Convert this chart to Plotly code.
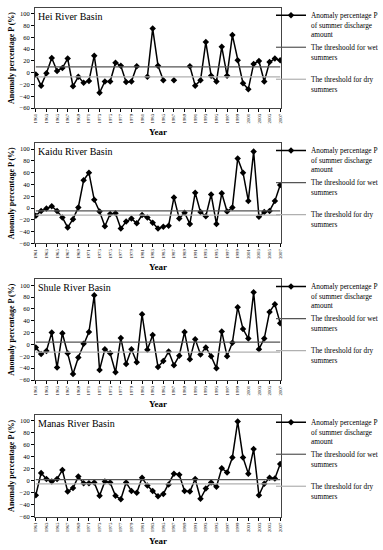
import plotly.graph_objects as go

years = list(range(1961, 2008))

basins = ["Hei River Basin", "Kaidu River Basin", "Shule River Basin", "Manas River Basin"]

hei = [-3, -22, -1, 25, 3, 8, 24, -23, -7, -17, -14, 29, -34, -15, -15, 17, 12, -16, -15, 11,
       None, -7, 75, 12, -13, None, -13, None, None, 11, -22, -13, 52, -5, -15, 44, -5, 64, 21, -18,
       -28, 15, 20, -15, 18, 24, 21]
kaidu = [-13, -5, -1, 3, -5, -16, -33, -19, 1, 47, 60, 14, -6, -31, -10, -9, -35, -23, -18, -26,
         -12, -16, -25, -35, -32, -30, 18, -18, -8, -27, 26, -7, -14, 23, -27, 25, -6, 1, 84, 60,
         12, 96, -15, -7, -5, 12, 39]
shule = [-5, -16, -11, 20, -39, 19, -15, -50, -22, 1, 21, 83, -43, -8, -15, -47, 11, -33, -8, -30,
         51, -9, 16, -38, -28, -12, -35, -19, 21, -25, 9, -17, -5, -20, -40, 22, -20, 3, 63, 26,
         10, 88, -8, 10, 55, 68, 36]
manas = [-24, 13, 3, -1, 3, 18, -18, -12, 7, -4, -4, -3, -25, -1, -3, -25, -31, -3, -17, -20,
         5, -8, -17, -26, -22, -6, 12, 10, -17, -18, 3, -30, -13, -3, -10, 21, 14, 39, 99, 39,
         12, 53, -24, -5, 5, 4, 28]

series = [hei, kaidu, shule, manas]
wet_thresholds = [10, -5, 4, 2]
dry_thresholds = [-7, -12, -13, -5]

y_ticks = [-60, -40, -20, 0, 20, 40, 60, 80, 100]
x_ticks = list(range(1961, 2008, 2))

legend_names = ["Anomaly percentage P<br>of summer discharge<br>amount",
                "The threshoold for wet<br>summers",
                "The threshold for dry<br>summers"]

W, H = 383, 550
panels_px = [(8, 108), (143.3, 243.3), (279.3, 380), (415, 516.7)]
legend_line_px = [16, 48, 80]  # first-line centre relative to panel 1
x_left, x_right = 35, 281

SERIF = "Liberation Serif, Times New Roman, serif"

fig = go.Figure()
layout = dict(
    width=W, height=H,
    margin=dict(l=0, r=0, t=0, b=0, autoexpand=False),
    paper_bgcolor="white", plot_bgcolor="white",
    font=dict(family=SERIF, color="black"),
    showlegend=True,
    annotations=[],
)

leg_idx = 0
for i, (name, vals) in enumerate(zip(basins, series)):
    k = "" if i == 0 else str(i + 1)
    xa, ya = "x" + k, "y" + k
    top, bot = panels_px[i]
    hpx = bot - top
    shift = top - panels_px[0][0]
    specs = [
        (vals, dict(color="black", width=1.5), "lines+markers"),
        ([wet_thresholds[i]] * len(years), dict(color="#555555", width=1.2), "lines"),
        ([dry_thresholds[i]] * len(years), dict(color="#b0b0b0", width=1.2), "lines"),
    ]
    for j, (yv, ln, mode) in enumerate(specs):
        leg_idx += 1
        lg = "legend" if leg_idx == 1 else f"legend{leg_idx}"
        fig.add_trace(go.Scatter(
            x=years, y=yv, mode=mode, xaxis=xa, yaxis=ya, line=ln,
            marker=dict(symbol="diamond", size=5, color="black"),
            name=legend_names[j], legend=lg, connectgaps=False,
        ))
        layout[lg] = dict(
            x=271 / W, y=1 - (legend_line_px[j] + shift - 12) / H,
            xanchor="left", yanchor="top",
            font=dict(size=7.3, family=SERIF, color="black"),
            bgcolor="rgba(0,0,0,0)", valign="top", itemwidth=30,
        )
    layout["xaxis" + k] = dict(
        domain=[x_left / W, x_right / W], anchor=ya,
        range=[1960.85, 2007.15], tickvals=x_ticks, ticktext=[str(t) for t in x_ticks],
        tickangle=-90, tickfont=dict(size=4.8, family=SERIF),
        ticks="outside", ticklen=3, tickcolor="black",
        showline=True, linecolor="#444444", linewidth=1, mirror=True,
        showgrid=False, zeroline=False,
    )
    layout["yaxis" + k] = dict(
        domain=[1 - bot / H, 1 - top / H], anchor=xa,
        range=[-60, 110], tickvals=y_ticks,
        tickfont=dict(size=6.5, family=SERIF),
        ticks="outside", ticklen=3, tickcolor="black",
        showline=True, linecolor="#444444", linewidth=1, mirror=True,
        showgrid=False, zeroline=False,
        title=dict(text="<b>Anomaly percentage P (%)</b>", font=dict(size=8, family=SERIF), standoff=3),
    )
    layout["annotations"].append(dict(
        text=name, xref=xa + " domain", yref=ya + " domain", x=0.005, y=0.99,
        xanchor="left", yanchor="top", showarrow=False,
        font=dict(size=10, family=SERIF, color="black"),
    ))
    layout["annotations"].append(dict(
        text="<b>Year</b>", xref=xa + " domain", yref=ya + " domain", x=0.5, y=-24 / hpx,
        xanchor="center", yanchor="middle", showarrow=False,
        font=dict(size=9, family=SERIF, color="black"),
    ))

fig.update_layout(**layout)
fig.write_html("out.html", config={"displayModeBar": False},
               post_script="document.body.style.margin='0';")
